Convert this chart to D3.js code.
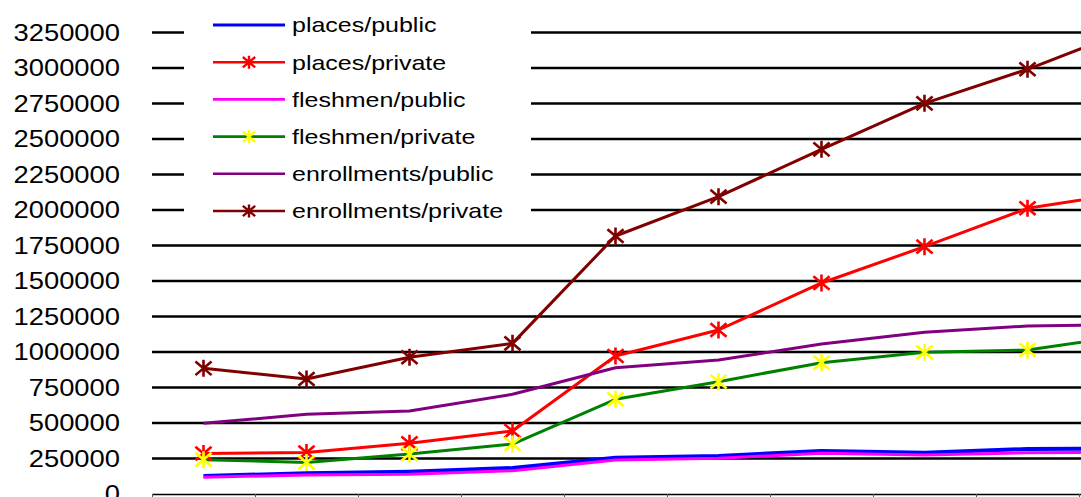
<!DOCTYPE html>
<html>
<head>
<meta charset="utf-8">
<script src="https://cdn.jsdelivr.net/npm/d3@7"></script>
<style>
  html, body { margin: 0; padding: 0; background: #fff; overflow: hidden; }
  svg { display: block; font-family: "Liberation Sans", Arial, sans-serif; }
</style>
</head>
<body>
<svg id="chart" width="1081" height="497"></svg>
<script>
// Period index for each observation
const categories = ["1", "2", "3", "4", "5", "6", "7", "8", "9", "10"];

// Series values
const placesPublic       = [127000, 146000, 157000, 183000, 256000, 268000, 303000, 291000, 317000, 320000];
const placesPrivate      = [285000, 292000, 357000, 444000, 972000, 1155000, 1486000, 1742000, 2012000, 2125000];
const fleshmenPublic     = [118000, 134000, 139000, 164000, 239000, 251000, 287000, 275000, 291000, 295000];
const fleshmenPrivate    = [242000, 222000, 282000, 352000, 667000, 791000, 925000, 998000, 1014000, 1118000];
const enrollmentsPublic  = [498000, 561000, 585000, 702000, 889000, 944000, 1056000, 1139000, 1183000, 1195000];
const enrollmentsPrivate = [885000, 810000, 963000, 1061000, 1817000, 2094000, 2427000, 2751000, 2991000, 3272000];

// Y axis tick labels
const yTicks = [0, 250000, 500000, 750000, 1000000, 1250000, 1500000, 1750000,
                2000000, 2250000, 2500000, 2750000, 3000000, 3250000];

const seriesNames = ["places/public", "places/private", "fleshmen/public",
                     "fleshmen/private", "enrollments/public", "enrollments/private"];

const series = [
  { name: seriesNames[0], values: placesPublic,       line: "#0000FF", marker: null,      width: 4 },
  { name: seriesNames[1], values: placesPrivate,      line: "#FF0000", marker: "#FF0000", width: 3 },
  { name: seriesNames[2], values: fleshmenPublic,     line: "#FF00FF", marker: null,      width: 3 },
  { name: seriesNames[3], values: fleshmenPrivate,    line: "#008000", marker: "#FFFF00", width: 3 },
  { name: seriesNames[4], values: enrollmentsPublic,  line: "#800080", marker: null,      width: 3 },
  { name: seriesNames[5], values: enrollmentsPrivate, line: "#800000", marker: "#800000", width: 3 }
];

const svg = d3.select("#chart");
const left = 152, step = 103;
const xBand = d3.scaleBand().domain(categories).range([left, left + step * categories.length]).padding(0);
const xEdge = d3.scaleLinear().domain([0, categories.length]).range([left, left + step * categories.length]);
const y = d3.scaleLinear().domain([0, 3250000]).range([494, 32.5]);
const cx = c => xBand(c) + xBand.bandwidth() / 2;

const stretch = 1.19;

// Horizontal gridlines
svg.append("g")
  .selectAll("line")
  .data(yTicks.filter(d => d > 0))
  .join("line")
  .attr("x1", left).attr("x2", 1081)
  .attr("y1", d => y(d)).attr("y2", d => y(d))
  .attr("stroke", "#000").attr("stroke-width", 2.6);

// Y tick labels
svg.append("g")
  .selectAll("text")
  .data(yTicks)
  .join("text")
  .attr("transform", d => `translate(120,${y(d)}) scale(${stretch},1)`)
  .attr("text-anchor", "end")
  .attr("dy", "0.36em")
  .attr("font-size", 23)
  .attr("fill", "#000")
  .text(d => d);

// X axis with ticks between categories
const xAxis = d3.axisBottom(xEdge)
  .tickValues(d3.range(0, categories.length + 1))
  .tickFormat("")
  .tickSize(6)
  .tickSizeOuter(0);
const gx = svg.append("g").attr("transform", "translate(0,494)").call(xAxis);
gx.select(".domain").attr("stroke", "#000").attr("stroke-width", 1.5);
gx.selectAll(".tick line").attr("stroke", "#555").attr("stroke-width", 1);

// Asterisk marker path
function star(r) {
  const a = r * 0.95, b = r * 0.8;
  return `M0,${-r}L0,${r}M${-a},${-b}L${a},${b}M${-a},${b}L${a},${-b}`;
}

const line = d3.line().x((d, i) => cx(categories[i])).y(d => y(d)).curve(d3.curveLinear);

const plot = svg.append("g");
series.forEach(s => {
  plot.append("path")
    .datum(s.values)
    .attr("d", line)
    .attr("fill", "none")
    .attr("stroke", s.line)
    .attr("stroke-width", s.width)
    .attr("stroke-linejoin", "round");
});
series.forEach(s => {
  if (!s.marker) return;
  plot.append("g")
    .selectAll("path")
    .data(s.values)
    .join("path")
    .attr("transform", (d, i) => `translate(${cx(categories[i])},${y(d)})`)
    .attr("d", star(8.5))
    .attr("fill", "none")
    .attr("stroke", s.marker)
    .attr("stroke-width", 2.6);
});

// Legend
const legend = svg.append("g");
legend.append("rect")
  .attr("x", 184).attr("y", 8).attr("width", 347).attr("height", 222)
  .attr("fill", "#fff");
const rowY = i => 25 + i * 37.2;
series.forEach((s, i) => {
  const g = legend.append("g").attr("transform", `translate(0,${rowY(i)})`);
  g.append("line")
    .attr("x1", 213).attr("x2", 285)
    .attr("stroke", s.line).attr("stroke-width", s.width === 4 ? 3 : 2.6);
  if (s.marker) {
    g.append("path")
      .attr("transform", "translate(249,0)")
      .attr("d", star(6.5))
      .attr("fill", "none")
      .attr("stroke", s.marker)
      .attr("stroke-width", 2.4);
  }
  g.append("text")
    .attr("transform", `translate(292,0) scale(${stretch},1)`)
    .attr("dy", "0.35em")
    .attr("font-size", 21)
    .attr("fill", "#000")
    .text(s.name);
});
</script>
</body>
</html>
